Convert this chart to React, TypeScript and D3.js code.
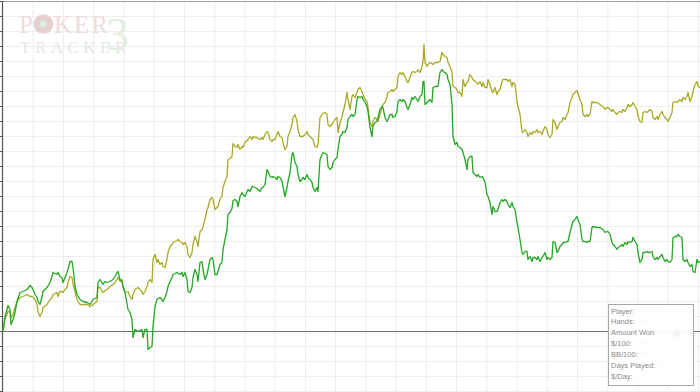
import React from "react";
import * as d3 from "d3";

// [hands (hundreds), net amount]
const amountWon: [number, number][] = [
[0,0],[2,15],[5,26],[7,22],[8,7],[10,12],[12,19],[14,30],[17,39],[20,40],[24,42],[27,46],[29,44],[30,42],[32,37],[34,34],[35,30],[37,27],[39,35],[40,40],[44,44],[47,49],[49,55],[50,59],[54,57],[55,59],[57,55],[59,54],[60,49],[62,54],[64,59],[65,62],[67,70],[69,70],[70,64],[71,55],[72,45],[74,37],[77,32],[80,30],[84,29],[87,27],[89,30],[90,32],[94,34],[95,49],[97,52],[100,47],[102,50],[104,49],[107,50],[110,52],[112,55],[114,59],[115,60],[117,52],
[119,50],[120,45],[122,39],[125,22],[127,19],[129,12],[130,-6],[132,2],[135,0],[139,2],[140,-6],[142,2],[144,2],[145,-18],[147,-16],[149,-15],[150,5],[152,25],[154,32],[155,33],[157,34],[159,32],[160,30],[162,34],[164,40],[165,45],[167,50],[169,54],[170,57],[172,58],[174,59],[175,58],[177,57],[179,59],[180,55],[182,59],[184,52],[185,40],[187,39],[189,44],[190,54],[192,62],[194,57],[195,50],[197,69],[199,70],[200,62],[202,52],[204,57],[205,62],[207,72],[209,74],[210,72],[212,57],[214,57],[215,60],[217,67],[219,69],[220,82],[222,92],[224,102],[225,117],[227,119],[229,123],[230,131],
[232,132],[234,130],[235,125],[237,135],[239,139],[240,137],[242,135],[244,140],[245,142],[247,140],[249,145],[250,145],[252,144],[254,143],[255,142],[257,140],[259,144],[260,144],[262,147],[264,162],[265,160],[267,155],[269,154],[270,155],[272,154],[274,152],[275,155],[277,154],[279,150],[280,145],[282,135],[284,144],[285,150],[287,159],[289,177],[290,179],[292,169],[294,165],[295,157],[297,150],[299,152],[300,154],[302,152],[304,157],[305,154],[307,152],[309,149],[310,144],[312,140],[314,144],[315,140],[317,172],[319,177],[320,179],[322,178],[324,177],[325,165],[327,162],[329,164],[330,169],[332,172],[334,174],[335,182],[337,195],[339,197],[340,200],[342,199],[344,204],[345,212],[347,215],
[349,217],[350,215],[352,217],[354,232],[355,235],[357,234],[359,235],[360,232],[362,229],[364,225],[365,220],[367,204],[369,195],[370,205],[372,209],[374,210],[375,214],[377,222],[379,225],[380,224],[382,214],[384,210],[385,212],[387,217],[389,217],[390,214],[392,215],[394,220],[395,230],[397,232],[399,230],[400,232],[402,230],[404,224],[405,222],[407,227],[409,234],[410,232],[412,235],[414,232],[415,230],[417,235],[419,237],[420,250],[421,250],[422,227],[424,229],[425,230],[427,232],[429,229],[430,244],[432,245],[435,245],[437,259],[439,262],[440,260],[442,259],[444,257],[445,252],[447,247],[449,227],[450,195],[452,187],[454,189],[455,185],[457,184],[459,182],[460,179],[462,172],[464,162],[465,172],[467,175],[469,175],[470,159],[472,157],
[474,155],[475,157],[477,154],[479,155],[480,154],[482,149],[484,137],[485,135],[487,129],[489,117],[490,125],[492,120],[494,120],[495,122],[497,129],[499,132],[500,130],[502,132],[504,130],[505,127],[507,124],[509,129],[510,125],[512,122],[514,109],[515,104],[517,92],[519,79],[520,77],[522,80],[524,80],[525,72],[527,75],[529,70],[530,74],[532,74],[534,72],[535,75],[537,70],[539,74],[540,75],[542,79],[544,72],[545,74],[547,72],[549,74],[550,90],[552,89],[554,79],[555,80],[557,85],[559,87],[560,89],[562,89],[564,90],[565,90],[567,99],[569,107],[570,110],[572,112],[574,115],[575,112],[577,107],[579,92],[580,90],[582,90],[584,89],[585,90],[587,90],[589,104],[590,105],[594,104],[597,104],[600,102],[602,99],[604,100],[605,100],
[607,97],[609,89],[610,87],[612,85],[614,82],[615,84],[617,85],[619,87],[620,85],[622,89],[624,87],[625,90],[627,89],[629,90],[630,94],[632,90],[634,87],[635,79],[637,69],[639,72],[640,79],[642,79],[644,80],[645,79],[647,79],[649,80],[650,75],[652,72],[654,74],[655,72],[657,75],[659,77],[660,74],[662,70],[664,72],[665,70],[667,69],[669,72],[670,94],[672,95],[674,95],[675,97],[677,95],[679,94],[680,72],[682,70],[684,72],[685,69],[687,65],[689,67],[690,60],[692,59],[694,72],[695,69],[697,70]
];

const allInEV: [number, number][] = [
[0,0],[2,12],[5,20],[7,20],[8,14],[10,17],[12,24],[14,30],[17,34],[20,35],[24,37],[27,35],[29,35],[30,34],[32,32],[34,27],[35,20],[37,15],[39,19],[40,24],[44,27],[47,32],[49,34],[50,37],[54,39],[55,35],[57,40],[59,40],[60,39],[62,42],[64,44],[65,49],[67,55],[69,54],[70,47],[71,44],[72,40],[74,32],[77,27],[80,27],[84,27],[87,25],[89,26],[90,27],[94,30],[95,44],[97,44],[100,39],[102,41],[104,42],[107,45],[110,47],[112,49],[114,52],[115,54],[117,50],
[119,52],[120,44],[122,39],[125,40],[127,35],[129,32],[130,37],[132,42],[135,44],[139,40],[140,37],[142,40],[144,45],[145,49],[147,52],[149,49],[150,72],[152,77],[154,69],[155,72],[157,67],[159,69],[160,65],[162,64],[164,72],[165,79],[167,85],[169,87],[170,89],[172,90],[174,91],[175,92],[177,90],[179,89],[180,87],[182,89],[184,85],[185,77],[187,74],[189,79],[190,87],[192,95],[194,90],[195,85],[197,100],[199,102],[200,105],[202,112],[204,122],[205,124],[207,132],[209,134],[210,132],[212,122],[214,124],[215,125],[217,132],[219,135],[220,144],[222,150],[224,155],[225,172],[227,173],[229,175],[230,188],
[232,185],[234,184],[235,187],[237,182],[239,185],[240,184],[242,189],[244,191],[245,192],[247,195],[249,192],[250,195],[252,194],[254,194],[255,193],[257,192],[259,194],[260,192],[262,197],[264,200],[265,199],[267,192],[269,190],[270,192],[272,192],[274,197],[275,200],[277,195],[279,194],[280,189],[282,182],[284,185],[285,195],[287,200],[289,207],[290,214],[292,217],[294,210],[295,202],[297,195],[299,195],[300,195],[302,197],[304,200],[305,197],[307,195],[309,193],[310,192],[312,185],[314,184],[315,187],[317,214],[319,217],[320,218],[322,219],[324,217],[325,207],[327,205],[329,207],[330,209],[332,212],[334,214],[335,199],[337,209],[339,215],[340,219],[342,227],[344,239],[345,232],[347,222],
[349,235],[350,237],[352,234],[354,239],[355,242],[357,244],[359,240],[360,237],[362,232],[364,230],[365,224],[367,209],[369,205],[370,210],[372,214],[374,212],[375,210],[377,217],[379,225],[380,227],[382,229],[384,235],[385,239],[387,240],[389,242],[390,240],[392,242],[394,244],[395,255],[397,259],[399,257],[400,259],[402,255],[404,250],[405,249],[407,254],[409,259],[410,260],[412,259],[414,260],[415,262],[417,259],[419,265],[420,270],[421,287],[422,269],[424,265],[425,267],[427,269],[429,268],[430,267],[432,269],[435,269],[437,270],[439,279],[440,277],[442,275],[444,274],[445,269],[447,265],[449,259],[450,245],[452,244],[454,242],[455,239],[457,239],[459,235],[460,252],[462,245],[464,249],[465,250],[467,257],[469,254],[470,252],[472,250],
[474,249],[475,247],[477,250],[479,245],[480,249],[482,244],[484,244],[485,252],[487,247],[489,240],[490,239],[492,244],[494,237],[495,240],[497,242],[499,250],[500,252],[502,252],[504,252],[505,250],[507,252],[509,245],[510,249],[512,247],[514,230],[515,225],[517,217],[519,200],[520,199],[522,202],[524,199],[525,195],[527,199],[529,197],[530,200],[532,199],[534,202],[535,199],[537,200],[539,197],[540,200],[542,205],[544,202],[545,197],[547,194],[549,197],[550,212],[552,209],[554,202],[555,205],[557,209],[559,210],[560,214],[562,212],[564,217],[565,219],[567,229],[569,234],[570,237],[572,239],[574,241],[575,238],[577,232],[579,227],[580,217],[582,215],[584,217],[585,215],[587,217],[589,230],[590,229],[594,229],[597,227],[600,225],[602,222],[604,224],[605,224],
[607,222],[609,220],[610,222],[612,219],[614,217],[615,219],[617,220],[619,219],[620,222],[622,220],[624,224],[625,227],[627,225],[629,227],[630,229],[632,225],[634,222],[635,215],[637,210],[639,209],[640,219],[642,220],[644,219],[645,220],[647,222],[649,220],[650,214],[652,212],[654,215],[655,212],[657,217],[659,220],[660,217],[662,214],[664,212],[665,210],[667,214],[669,219],[670,229],[672,230],[674,229],[675,230],[677,232],[679,230],[680,234],[682,232],[684,235],[685,239],[687,230],[689,235],[690,240],[692,247],[694,250],[695,245],[697,244]
];

const statLabels = ["Player:", "Hands:", "Amount Won", "$/100:", "BB/100:", "Days Played:", "$/Day:"];
const statValues = ["· · · ·  · ·", "· ·  ·", ": ·  ·  · ·  (1 ~ 1)", "· ·  ·", "·  ·", "· ·", "·  ·"];

const W = 700;
const H = 392;

export default function App() {
  const x = d3.scaleLinear().domain([0, 697]).range([3, 700]);
  const y = d3.scaleLinear().domain([-60.5, 330]).range([392, 1.5]);
  const gridStepX = 30.24;
  const xGrid = d3.range(gridStepX, 700, gridStepX);
  const yGrid = d3.range(-60, 331, 15);

  const line = d3
    .line<[number, number]>()
    .x((d) => x(d[0]))
    .y((d) => y(d[1]));

  return (
    <svg
      width={W}
      height={H}
      style={{ position: "absolute", left: 0, top: 0, background: "#fff" }}
      fontFamily="'Liberation Sans', Arial, sans-serif"
    >
      <defs>
        <filter id="blur" x="-10%" y="-50%" width="120%" height="200%">
          <feGaussianBlur stdDeviation="0.9" />
        </filter>
        <radialGradient id="chip" cx="50%" cy="50%" r="50%">
          <stop offset="0%" stopColor="#d9e6d9" />
          <stop offset="100%" stopColor="#e9c8c8" />
        </radialGradient>
      </defs>
      <rect x={0} y={0} width={W} height={H} fill="#fff" />
      {/* grid */}
      {xGrid.map((g) => (
        <line key={"vx" + g} x1={x(g)} x2={x(g)} y1={1.5} y2={H} stroke="#eeeeee" strokeWidth={1} />
      ))}
      {yGrid.map((g) => (
        <line key={"hy" + g} x1={3} x2={W} y1={y(g)} y2={y(g)} stroke="#eeeeee" strokeWidth={1} />
      ))}
      {/* watermark */}
      <g opacity={1}>
        <text x={19} y={33} fontFamily="'Liberation Serif', 'DejaVu Serif', serif" fontSize={25} fill="#f0dcdc" letterSpacing={1}>
          P
        </text>
        <circle cx={43.5} cy={24} r={9} fill="url(#chip)" stroke="#ead0d0" strokeWidth={1.5} />
        <circle cx={43.5} cy={24} r={4.5} fill="#dfe9df" stroke="#e3c7c7" strokeWidth={1} />
        <text x={54} y={33} fontFamily="'Liberation Serif', 'DejaVu Serif', serif" fontSize={25} fill="#f0dcdc" letterSpacing={2}>
          KER
        </text>
        <text x={20} y={53} fontFamily="'Liberation Serif', 'DejaVu Serif', serif" fontSize={17} fill="#e3e8e5" letterSpacing={4.5}>
          TRACKER
        </text>
        <text x={106} y={50} fontFamily="'Liberation Serif', 'DejaVu Serif', serif" fontSize={46} fill="#e2eee2">
          3
        </text>
      </g>
      {/* top border */}
      <line x1={0} x2={W} y1={1.5} y2={1.5} stroke="#a0a0a0" strokeWidth={1} />
      {/* zero line */}
      <line x1={3} x2={W} y1={y(0)} y2={y(0)} stroke="#707070" strokeWidth={1.2} />
      {/* left axis */}
      <line x1={2.5} x2={2.5} y1={1.5} y2={H} stroke="#555" strokeWidth={1.2} />
      {yGrid.map((g) => (
        <line key={"tk" + g} x1={0} x2={3} y1={y(g)} y2={y(g)} stroke="#555" strokeWidth={1} />
      ))}
      {/* series */}
      <path d={line(allInEV) || ""} fill="none" stroke="#aaaa22" strokeWidth={1.3} strokeLinejoin="round" />
      <path d={line(amountWon) || ""} fill="none" stroke="#22a822" strokeWidth={1.3} strokeLinejoin="round" />
      {/* stats box */}
      <rect x={608.5} y={304.5} width={85} height={81} fill="#fff" stroke="#a8a8a8" strokeWidth={1} />
      {statLabels.map((s, i) => (
        <g key={s}>
          <text x={611} y={313.5 + i * 10.9} fontSize={7.5} fill="#8a8a8a">
            {s}
          </text>
          <text
            x={611 + (s.length * 3.6) + 4}
            y={313.5 + i * 10.9}
            fontSize={7.5}
            fill="#c8c8d0"
            filter="url(#blur)"
          >
            {statValues[i]}
          </text>
        </g>
      ))}
    </svg>
  );
}
